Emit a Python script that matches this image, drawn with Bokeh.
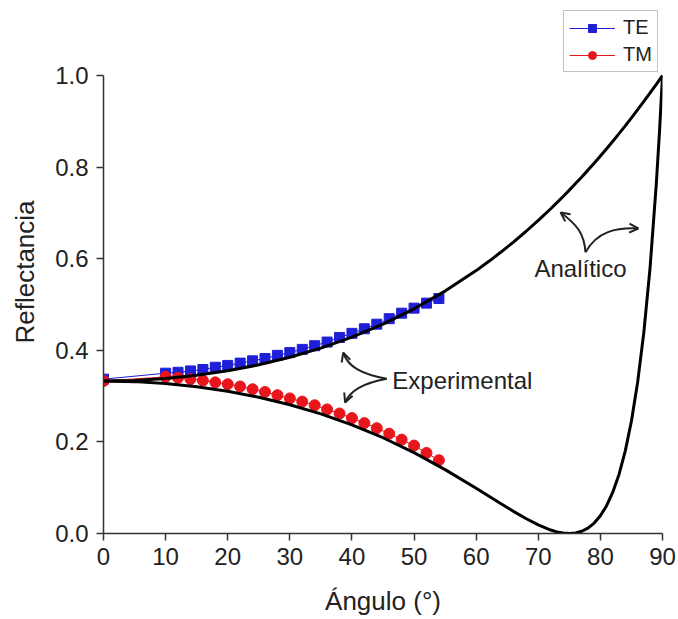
from bokeh.plotting import figure
from bokeh.models import (Range1d, FixedTicker, Legend, LegendItem, Arrow, OpenHead,
                          NumeralTickFormatter)
from bokeh.core.properties import value
from bokeh.embed import file_html
from bokeh.resources import INLINE

# ---- analytic curves ----
ang = [0, 5, 10, 15, 20, 25, 30, 35, 40, 45, 50, 55, 60, 62, 64, 66, 68, 70, 72, 73, 74, 75,
       76, 77, 78, 79, 80, 81, 82, 83, 84, 85, 86, 87, 88, 89, 89.5, 90]
r_te = [.3329, .3343, .3384, .3454, .3553, .3683, .3847, .4047, .4288, .4573, .4906, .5293,
        .5740, .5937, .6145, .6363, .6594, .6836, .7091, .7224, .7359, .7498, .7640, .7785,
        .7934, .8086, .8242, .8402, .8565, .8731, .8901, .9075, .9253, .9434, .9619, .9808,
        .9903, 1.0]
r_tm = [.3329, .3316, .3275, .3205, .3106, .2976, .2812, .2612, .2373, .2091, .1765, .1395,
        .0988, .0819, .0650, .0484, .0328, .0188, .0076, .0036, .0010, .0000, .0012, .0049,
        .0119, .0228, .0387, .0606, .0901, .1291, .1799, .2457, .3305, .4398, .5807, .7630,
        .8736, 1.0]

# ---- experimental points ----
exp_ang = [0, 10, 12, 14, 16, 18, 20, 22, 24, 26, 28, 30, 32, 34, 36, 38, 40, 42, 44, 46,
           48, 50, 52, 54]
exp_te = [.337, .350, .352, .355, .358, .363, .367, .372, .377, .382, .389, .395, .402, .410,
          .418, .428, .437, .447, .457, .469, .481, .492, .503, .513]
exp_tm = [.333, .342, .340, .337, .334, .330, .326, .321, .315, .309, .302, .295, .288, .280,
          .271, .262, .252, .241, .230, .218, .205, .192, .176, .160]

x_ticks = [0, 10, 20, 30, 40, 50, 60, 70, 80, 90]
y_ticks = [0.0, 0.2, 0.4, 0.6, 0.8, 1.0]

# ---- annotation geometry (data units) ----
arr_x0 = [45.6, 45.6, 77.6, 77.6]
arr_y0 = [0.338, 0.338, 0.614, 0.614]
arr_cx0 = [41.5, 41.5, 77.4, 79.5]
arr_cy0 = [0.348, 0.328, 0.655, 0.660]
arr_cx1 = [39.3, 39.6, 76.2, 82.5]
arr_cy1 = [0.365, 0.310, 0.675, 0.668]
arr_x1 = [38.6, 38.9, 73.6, 86.1]
arr_y1 = [0.395, 0.286, 0.701, 0.666]

FONT = "Liberation Sans"
BLUE = "#1f1fd8"
RED = "#e8161c"
TXT = "#222222"

# frame extends above 1.0 so the legend (drawn above the axis end) is not clipped
p = figure(width=678, height=619, output_backend="svg", toolbar_location=None,
           x_range=Range1d(0, 90), y_range=Range1d(0, 1.0 + 65 / 458),
           min_border_left=103, min_border_right=16, min_border_top=10,
           min_border_bottom=86)
p.outline_line_color = None
p.xgrid.visible = False
p.ygrid.visible = False
p.background_fill_color = "white"
p.border_fill_color = "white"

for ax in (p.xaxis[0], p.yaxis[0]):
    ax.axis_line_color = "#333333"
    ax.axis_line_width = 1.5
    ax.major_tick_line_color = "#333333"
    ax.major_tick_line_width = 1.5
    ax.major_tick_out = 7
    ax.major_tick_in = 0
    ax.minor_tick_line_color = None
    ax.major_label_text_font = FONT
    ax.major_label_text_font_size = "24px"
    ax.major_label_text_color = TXT
    ax.axis_label_text_font = FONT
    ax.axis_label_text_font_size = "26px"
    ax.axis_label_text_font_style = "normal"
    ax.axis_label_text_color = TXT

p.yaxis.bounds = (0, 1.0)
p.xaxis.ticker = FixedTicker(ticks=x_ticks)
p.yaxis.ticker = FixedTicker(ticks=y_ticks)
p.yaxis.formatter = NumeralTickFormatter(format="0.0")
p.xaxis.axis_label = "Ángulo (°)"
p.yaxis.axis_label = "Reflectancia"
p.xaxis.major_label_standoff = 7
p.yaxis.major_label_standoff = 8
p.xaxis.axis_label_standoff = 18
p.yaxis.axis_label_standoff = 12

# experimental series
l_te = p.line(exp_ang, exp_te, line_color=BLUE, line_width=1)
m_te = p.scatter(exp_ang, exp_te, marker="square", size=10, fill_color=BLUE, line_color=BLUE)
l_tm = p.line(exp_ang, exp_tm, line_color=RED, line_width=1)
m_tm = p.scatter(exp_ang, exp_tm, marker="circle", size=11, fill_color=RED, line_color=RED)

# analytic curves
p.line(ang, r_te, line_color="black", line_width=3)
p.line(ang, r_tm, line_color="black", line_width=3)

# annotation arrows
p.bezier(x0=arr_x0, y0=arr_y0, x1=arr_x1, y1=arr_y1,
         cx0=arr_cx0, cy0=arr_cy0, cx1=arr_cx1, cy1=arr_cy1,
         line_color=TXT, line_width=2)
for xs, ys, xe, ye in zip(arr_cx1, arr_cy1, arr_x1, arr_y1):
    p.add_layout(Arrow(end=OpenHead(size=9, line_width=2, line_color=TXT),
                       x_start=xs, y_start=ys, x_end=xe, y_end=ye, line_alpha=0))

p.text(x=[46.5], y=[0.334], text=["Experimental"], text_font=value(FONT),
       text_font_size="24px", text_color=TXT, text_baseline="middle", text_align="left")
p.text(x=[76.8], y=[0.579], text=["Analítico"], text_font=value(FONT),
       text_font_size="24px", text_color=TXT, text_baseline="middle", text_align="center")

legend = Legend(items=[LegendItem(label="TE", renderers=[l_te, m_te]),
                       LegendItem(label="TM", renderers=[l_tm, m_tm])],
                location=(460, 461), orientation="vertical")
legend.label_text_font = FONT
legend.label_text_font_size = "20px"
legend.label_text_color = TXT
legend.glyph_width = 46
legend.glyph_height = 20
legend.spacing = 4
legend.padding = 5
legend.margin = 0
legend.label_standoff = 8
legend.border_line_color = "#888888"
legend.border_line_width = 1
legend.background_fill_alpha = 1.0
p.add_layout(legend)

open("out.html", "w").write(file_html(p, INLINE))
